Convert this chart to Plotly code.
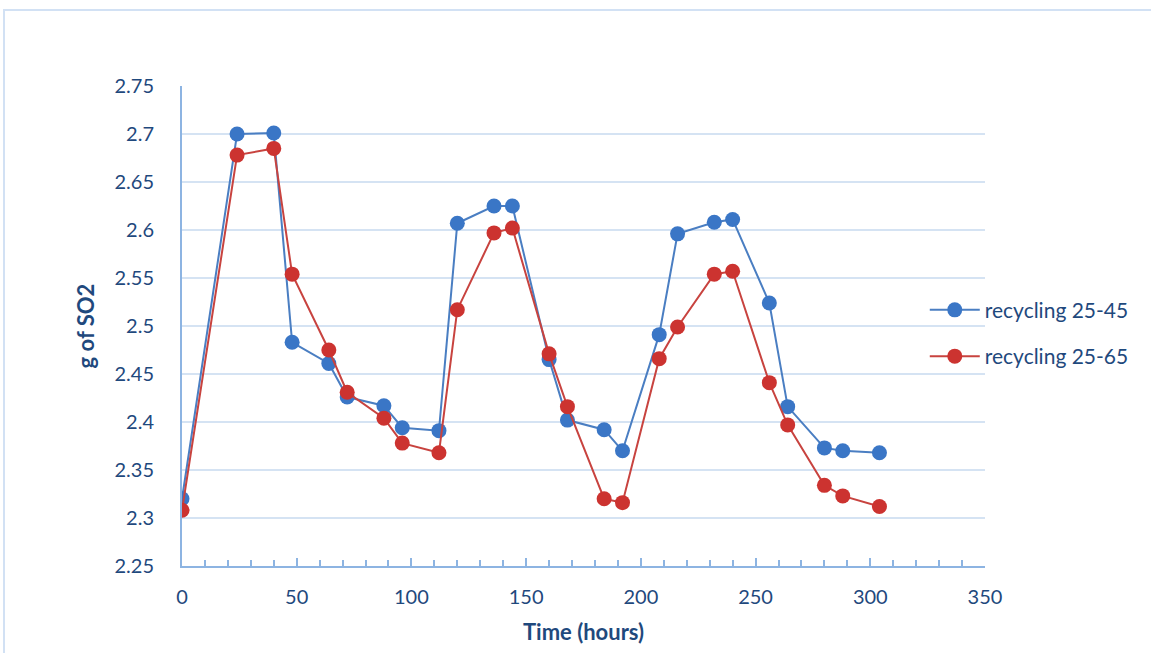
import plotly.graph_objects as go

time_hours = [0, 24, 40, 48, 64, 72, 88, 96, 112, 120, 136, 144, 160, 168, 184, 192,
              208, 216, 232, 240, 256, 264, 280, 288, 304]
so2_25_45 = [2.320, 2.700, 2.701, 2.483, 2.461, 2.426, 2.417, 2.394, 2.391, 2.607, 2.625, 2.625,
             2.465, 2.402, 2.392, 2.370, 2.491, 2.596, 2.608, 2.611, 2.524, 2.416, 2.373, 2.370, 2.368]
so2_25_65 = [2.308, 2.678, 2.685, 2.554, 2.475, 2.431, 2.404, 2.378, 2.368, 2.517, 2.597, 2.602,
             2.471, 2.416, 2.320, 2.316, 2.466, 2.499, 2.554, 2.557, 2.441, 2.397, 2.334, 2.323, 2.312]
series_names = ["recycling 25-45", "recycling 25-65"]
x_ticks = [0, 50, 100, 150, 200, 250, 300, 350]
y_ticks = [2.25, 2.3, 2.35, 2.4, 2.45, 2.5, 2.55, 2.6, 2.65, 2.7, 2.75]
y_tick_text = ["2.25", "2.3", "2.35", "2.4", "2.45", "2.5", "2.55", "2.6", "2.65", "2.7", "2.75"]

FONT = "Lato"
TXT = "#1F497D"
AXIS = "#8DB4E2"
GRID = "#D5E3F3"

fig = go.Figure()
for name, ys, lc, mc, grp in [
    (series_names[0], so2_25_45, "#4A7EC2", "#3A76C6", "a"),
    (series_names[1], so2_25_65, "#C8433F", "#CC3330", "b"),
]:
    fig.add_trace(go.Scatter(
        x=time_hours, y=ys, name=name, mode="lines+markers",
        line=dict(color=lc, width=2),
        marker=dict(color=mc, size=15, line=dict(color=mc, width=0)),
        legendgroup=grp,
    ))

fig.update_layout(
    width=1151, height=653,
    margin=dict(l=182, r=166, t=86, b=87),
    paper_bgcolor="white", plot_bgcolor="white",
    font=dict(family=FONT, color=TXT, size=20),
    showlegend=True,
    legend=dict(x=0.925, y=0.485, xanchor="left", yanchor="middle",
                font=dict(family=FONT, size=21, color=TXT),
                bgcolor="rgba(0,0,0,0)", tracegroupgap=16, itemwidth=50),
    xaxis=dict(
        range=[0, 350], tickvals=x_ticks, showgrid=False, zeroline=False,
        showline=True, linecolor=AXIS, linewidth=2,
        ticks="inside", ticklen=8, tickwidth=2, tickcolor=AXIS,
        minor=dict(dtick=10, ticks="inside", ticklen=6, tickwidth=1.5, tickcolor=AXIS),
        ticklabelstandoff=12,
        tickfont=dict(family=FONT, size=20, color=TXT),
        title=dict(text="<b>Time (hours)</b>", font=dict(family=FONT, size=22, color=TXT), standoff=18),
    ),
    yaxis=dict(
        range=[2.25, 2.75], tickvals=y_ticks, ticktext=y_tick_text,
        showgrid=True, gridcolor=GRID, gridwidth=2, zeroline=False,
        showline=True, linecolor=AXIS, linewidth=2, ticks="",
        ticklabelstandoff=22,
        tickfont=dict(family=FONT, size=20, color=TXT),
        title=dict(text="<b>g of SO2</b>", font=dict(family=FONT, size=22, color=TXT), standoff=14),
    ),
    shapes=[dict(type="rect", xref="paper", yref="paper",
                 x0=(4 - 182) / 803, x1=1.4, y0=-0.4, y1=(566 - 10) / 480,
                 line=dict(color="#D2E1F4", width=2), fillcolor="rgba(0,0,0,0)", layer="below")],
)

fig.write_html("out.html")
